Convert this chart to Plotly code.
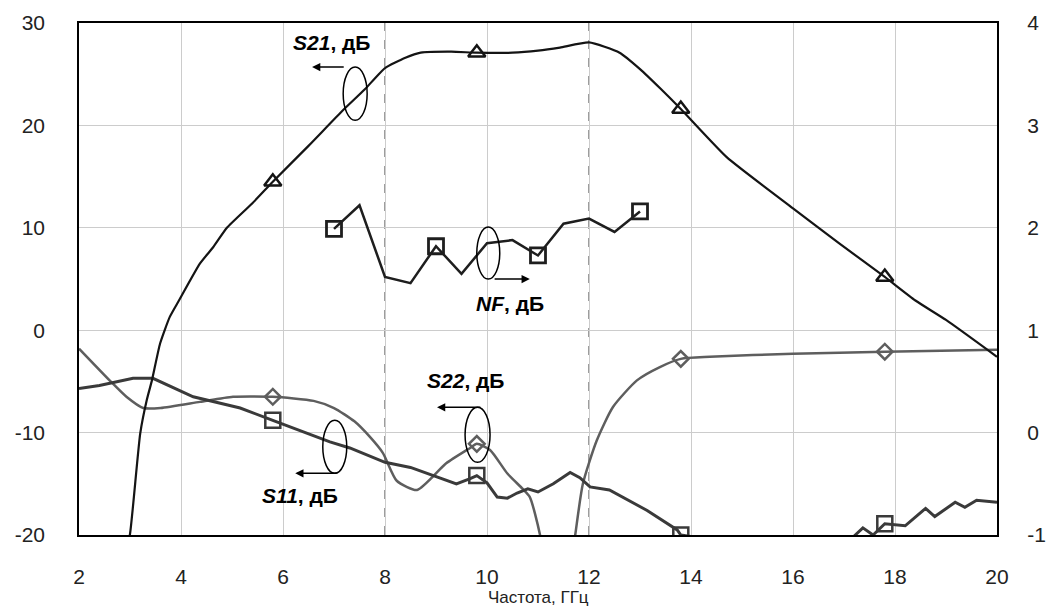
import plotly.graph_objects as go

# ---------------- data ----------------
s21_f = [2.9, 3.0, 3.2, 3.33, 3.43, 3.59, 3.78, 3.96, 4.37, 4.63, 4.9, 5.4, 5.8, 6.5, 7.18, 7.6,
         8.0, 8.4, 8.7, 9.3, 9.8, 10.5, 11.0, 11.43, 12.0, 12.6, 13.0, 13.4, 13.8, 14.7, 16.0,
         16.9, 17.8, 18.4, 19.0, 20.0]
s21_db = [-22, -19.9, -10.1, -6.8, -4.9, -1.3, 1.3, 2.9, 6.5, 8.1, 10.0, 12.4, 14.5, 18.0, 21.5, 23.5,
          25.6, 26.6, 27.1, 27.2, 27.1, 27.1, 27.3, 27.6, 28.1, 27.1, 25.5, 23.6, 21.6, 16.9, 11.9,
          8.5, 5.2, 2.9, 1.0, -2.6]

nf_f = [7.0, 7.5, 8.0, 8.5, 9.0, 9.5, 10.0, 10.5, 11.0, 11.5, 12.0, 12.5, 13.0]
nf_db = [1.99, 2.22, 1.52, 1.46, 1.82, 1.55, 1.85, 1.88, 1.73, 2.04, 2.09, 1.96, 2.16]

s11_f = [2.0, 2.4, 3.06, 3.45, 4.24, 5.16, 5.8, 6.33, 6.92, 7.31, 8.0, 8.5, 9.4, 9.67, 9.8, 10.0,
         10.2, 10.4, 10.59, 10.8, 11.0, 11.3, 11.63, 11.82, 12.02, 12.4, 13.14, 13.73, 13.8, 14.2,
         15.0, 16.0, 17.0, 17.2, 17.37, 17.57, 17.8, 18.2, 18.6, 18.78, 19.18, 19.37, 19.6, 20.0]
s11_db = [-5.7, -5.4, -4.7, -4.7, -6.5, -7.6, -8.8, -9.8, -10.9, -11.5, -12.9, -13.4, -15.0, -14.5, -14.2, -14.9,
          -16.3, -16.4, -15.9, -15.5, -15.8, -15.0, -13.9, -14.4, -15.3, -15.6, -17.6, -19.5, -20.0, -20.3,
          -22.0, -23.0, -21.0, -20.1, -19.3, -20.0, -18.9, -19.1, -17.4, -18.2, -16.8, -17.3, -16.6, -16.8]

s22_f = [2.0, 2.6, 2.93, 3.26, 3.6, 4.37, 5.02, 5.8, 6.6, 7.0, 7.4, 7.7, 7.96, 8.23, 8.63, 9.2,
         9.67, 9.8, 10.06, 10.4, 10.7, 10.84, 11.04, 11.4, 11.73, 11.88, 12.15, 12.47, 12.94, 13.39,
         13.8, 14.37, 16.0, 17.8, 20.0]
s22_db = [-1.8, -4.9, -6.5, -7.6, -7.6, -7.0, -6.5, -6.5, -6.9, -7.6, -8.9, -10.4, -12.0, -14.7, -15.6, -13.0,
          -11.5, -11.1, -11.7, -14.0, -15.5, -16.3, -20.0, -32.0, -20.0, -15.0, -10.8, -7.5, -4.9, -3.6,
          -2.8, -2.6, -2.3, -2.1, -1.9]

s_marker_f = [5.8, 9.8, 13.8, 17.8]
nf_marker_f = [7.0, 9.0, 11.0, 13.0]
band_edges = [8, 12]

x_ticks = [2, 4, 6, 8, 10, 12, 14, 16, 18, 20]
y_ticks = [-20, -10, 0, 10, 20, 30]
y2_ticks = [-1, 0, 1, 2, 3, 4]
x_title = "Частота, ГГц"


def pick(xs, ys, wanted):
    px, py = [], []
    for w in wanted:
        for a, b in zip(xs, ys):
            if abs(a - w) < 1e-9:
                px.append(a)
                py.append(b)
    return px, py


FONT = "Arial, Liberation Sans, sans-serif"
C_S21 = "#141414"
C_NF = "#1e1e1e"
C_S11 = "#3a3a3a"
C_S22 = "#5e5e5e"

fig = go.Figure()

# S22
fig.add_trace(go.Scatter(x=s22_f, y=s22_db, mode="lines", line=dict(color=C_S22, width=2.5, shape="spline", smoothing=0.6),
                         showlegend=False))
mx, my = pick(s22_f, s22_db, s_marker_f)
fig.add_trace(go.Scatter(x=mx, y=my, mode="markers",
                         marker=dict(symbol="diamond-open", size=12, color=C_S22, line=dict(width=2.5, color=C_S22)),
                         showlegend=False))
# S11
fig.add_trace(go.Scatter(x=s11_f, y=s11_db, mode="lines", line=dict(color=C_S11, width=3),
                         showlegend=False))
mx, my = pick(s11_f, s11_db, s_marker_f)
fig.add_trace(go.Scatter(x=mx, y=my, mode="markers",
                         marker=dict(symbol="square-open", size=15, color=C_S11, line=dict(width=2.5, color=C_S11)),
                         showlegend=False))
# S21
fig.add_trace(go.Scatter(x=s21_f, y=s21_db, mode="lines", line=dict(color=C_S21, width=2.2, shape="spline", smoothing=0.5),
                         showlegend=False))
mx, my = pick(s21_f, s21_db, s_marker_f)
fig.add_trace(go.Scatter(x=mx, y=my, mode="markers",
                         marker=dict(symbol="triangle-up-open", size=15, color=C_S21, line=dict(width=2.5, color=C_S21)),
                         showlegend=False))
# NF on right axis
fig.add_trace(go.Scatter(x=nf_f, y=nf_db, mode="lines", line=dict(color=C_NF, width=2.5), yaxis="y2",
                         showlegend=False))
mx, my = pick(nf_f, nf_db, nf_marker_f)
fig.add_trace(go.Scatter(x=mx, y=my, mode="markers", yaxis="y2",
                         marker=dict(symbol="square-open", size=15, color=C_NF, line=dict(width=2.8, color=C_NF)),
                         showlegend=False))

# dashed band edges
for be in band_edges:
    fig.add_shape(type="line", x0=be, x1=be, y0=0, y1=1, xref="x", yref="paper",
                  line=dict(color="#3a3a3a", width=1, dash="dash"), layer="between")


# ellipses, arrows and labels
def ellipse(x0, x1, y0, y1):
    fig.add_shape(type="circle", xref="x", yref="y", x0=x0, x1=x1, y0=y0, y1=y1,
                  line=dict(color="black", width=1.5))


def arrow(xt, yt, xh, yh):
    fig.add_annotation(x=xh, y=yh, ax=xt, ay=yt, xref="x", yref="y", axref="x", ayref="y",
                       text="", showarrow=True, arrowhead=2, arrowsize=1.1, arrowwidth=1.5, arrowcolor="black")


def label(x, y, txt):
    fig.add_annotation(x=x, y=y, xref="x", yref="y", text=txt, showarrow=False,
                       font=dict(family=FONT, size=21, color="black"))


ellipse(7.18, 7.65, 20.5, 25.7)
arrow(7.22, 25.7, 6.57, 25.7)
label(6.96, 28.1, "<b><i>S21</i>, дБ</b>")

ellipse(9.80, 10.25, 4.99, 10.07)
arrow(10.12, 4.99, 10.84, 4.99)
label(10.45, 2.6, "<b><i>NF</i>, дБ</b>")

ellipse(9.57, 10.06, -12.9, -7.53)
arrow(9.90, -7.53, 9.02, -7.53)
label(9.57, -4.9, "<b><i>S22</i>, дБ</b>")

ellipse(6.78, 7.25, -13.98, -8.80)
arrow(7.08, -13.98, 6.24, -13.98)
label(6.33, -16.1, "<b><i>S11</i>, дБ</b>")

# x-axis title
fig.add_annotation(x=0.5, y=-0.123, xref="paper", yref="paper", text=x_title, showarrow=False,
                   yanchor="middle", font=dict(family=FONT, size=17, color="#222222"))

fig.update_layout(
    width=1047, height=608,
    margin=dict(l=79, r=50, t=23, b=73, autoexpand=False),
    paper_bgcolor="white", plot_bgcolor="white",
    font=dict(family=FONT, size=21, color="#222222"),
    xaxis=dict(range=[2, 20], tickvals=x_ticks, ticktext=[str(v) for v in x_ticks],
               showgrid=True, gridcolor="#cccccc", gridwidth=1,
               showline=True, linecolor="black", linewidth=1.5, mirror=True, automargin=False,
               ticks="outside", ticklen=22, tickcolor="rgba(0,0,0,0)", zeroline=False),
    yaxis=dict(range=[-20, 30], tickvals=y_ticks, ticktext=[str(v) for v in y_ticks],
               showgrid=True, gridcolor="#cccccc", gridwidth=1,
               showline=True, linecolor="black", linewidth=1.5, mirror=True, automargin=False,
               ticks="outside", ticklen=28, tickcolor="rgba(0,0,0,0)", zeroline=False),
    yaxis2=dict(range=[-1, 4], tickvals=y2_ticks, ticktext=[str(v) for v in y2_ticks],
                overlaying="y", side="right", showgrid=False, automargin=False,
                ticks="outside", ticklen=25, tickcolor="rgba(0,0,0,0)", zeroline=False, showline=False),
)

fig.write_html("out.html", config={"displayModeBar": False},
               post_script="document.body.style.margin='0';document.body.style.overflow='hidden';")
